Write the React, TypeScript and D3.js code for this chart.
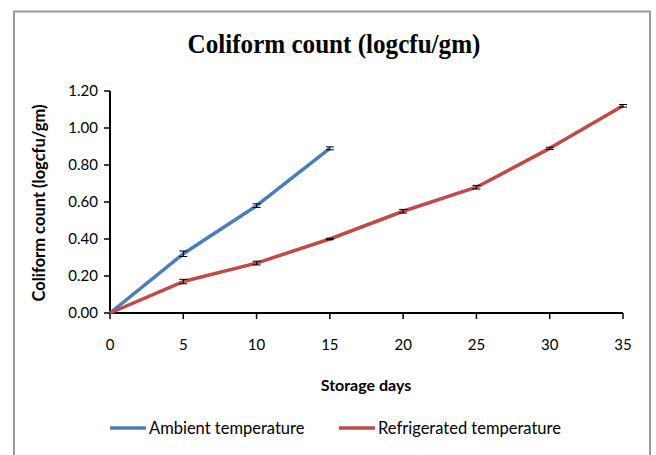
import React from "react";
import * as d3 from "d3";

const days = [0, 5, 10, 15, 20, 25, 30, 35];
const ambientDays = [0, 5, 10, 15];
const ambientValues = [0.0, 0.32, 0.58, 0.89];
const ambientErrors = [0.0, 0.015, 0.01, 0.008];
const refrigeratedValues = [0.0, 0.17, 0.27, 0.4, 0.55, 0.68, 0.89, 1.12];
const refrigeratedErrors = [0.0, 0.012, 0.01, 0.004, 0.01, 0.01, 0.006, 0.007];
const yTicks = [0, 0.2, 0.4, 0.6, 0.8, 1.0, 1.2];
const xTicks = [0, 5, 10, 15, 20, 25, 30, 35];
const seriesNames = ["Ambient temperature", "Refrigerated temperature"];
const colors = ["#4A7EBB", "#BE4B48"];

const W = 656;
const H = 455;
const left = 110;
const right = 623;
const top = 91;
const bottom = 313;
const labelFont = "Lato, 'Open Sans', sans-serif";

export default function App() {
  const x = d3.scaleLinear().domain([0, 35]).range([left, right]);
  const y = d3.scaleLinear().domain([0, 1.2]).range([bottom, top]);
  const line = d3
    .line<[number, number]>()
    .x((d) => x(d[0]))
    .y((d) => y(d[1]));

  const series = [
    { xs: ambientDays, vs: ambientValues, es: ambientErrors, color: colors[0] },
    { xs: days, vs: refrigeratedValues, es: refrigeratedErrors, color: colors[1] },
  ];

  return (
    <svg
      width={W}
      height={H}
      style={{ position: "absolute", left: 0, top: 0, background: "#fff" }}
    >
      <rect x={0} y={0} width={W} height={H} fill="#fff" />
      <rect x={14} y={11.5} width={636} height={460} fill="#fff" stroke="#9a9a9a" strokeWidth={2} />
      <text
        x={0}
        y={0}
        textAnchor="middle"
        fontFamily="'Liberation Serif', 'Times New Roman', serif"
        fontWeight="bold"
        fontSize={27}
        fill="#000"
        transform="translate(334,53) scale(0.93,1)"
      >
        Coliform count (logcfu/gm)
      </text>

      {/* y axis */}
      <line x1={left} x2={left} y1={top} y2={bottom} stroke="#000" strokeWidth={2} />
      {yTicks.map((t) => (
        <g key={"y" + t}>
          <line x1={left - 6} x2={left} y1={y(t)} y2={y(t)} stroke="#000" strokeWidth={1.5} />
          <text
            x={left - 12}
            y={y(t)}
            dy="0.36em"
            textAnchor="end"
            fontFamily={labelFont}
            fontSize={15}
            fill="#000"
          >
            {t.toFixed(2)}
          </text>
        </g>
      ))}

      {/* x axis */}
      <line x1={left} x2={right} y1={bottom} y2={bottom} stroke="#000" strokeWidth={2} />
      {xTicks.map((t) => (
        <g key={"x" + t}>
          <line x1={x(t)} x2={x(t)} y1={bottom} y2={bottom + 6} stroke="#000" strokeWidth={1.5} />
          <text
            x={x(t)}
            y={350}
            textAnchor="middle"
            fontFamily={labelFont}
            fontSize={15}
            fill="#000"
          >
            {t}
          </text>
        </g>
      ))}

      {/* series */}
      {series.map((s, i) => {
        const pts: [number, number][] = s.xs.map((d, j) => [d, s.vs[j]]);
        return (
          <g key={"s" + i}>
            <path d={line(pts) || ""} fill="none" stroke={s.color} strokeWidth={3.5} strokeLinejoin="round" />
            {pts.map((p, j) =>
              s.es[j] > 0 ? (
                <g key={j} stroke="#000" strokeWidth={1}>
                  <line x1={x(p[0])} x2={x(p[0])} y1={y(p[1] - s.es[j])} y2={y(p[1] + s.es[j])} />
                  <line x1={x(p[0]) - 4} x2={x(p[0]) + 4} y1={y(p[1] - s.es[j])} y2={y(p[1] - s.es[j])} />
                  <line x1={x(p[0]) - 4} x2={x(p[0]) + 4} y1={y(p[1] + s.es[j])} y2={y(p[1] + s.es[j])} />
                </g>
              ) : null
            )}
          </g>
        );
      })}

      {/* axis titles */}
      <text
        x={366}
        y={391}
        textAnchor="middle"
        fontFamily={labelFont}
        fontWeight="bold"
        fontSize={16}
        fill="#000"
      >
        Storage days
      </text>
      <text
        transform={`translate(45,${(top + bottom) / 2 + 1}) rotate(-90)`}
        textAnchor="middle"
        fontFamily={labelFont}
        fontWeight="bold"
        fontSize={16.5}
        fill="#000"
      >
        Coliform count  (logcfu/gm)
      </text>

      {/* legend */}
      {seriesNames.map((n, i) => {
        const lx = i === 0 ? 110 : 339;
        return (
          <g key={"l" + i}>
            <line x1={lx} x2={lx + 36} y1={428} y2={428} stroke={colors[i]} strokeWidth={3.5} />
            <text x={lx + 39} y={433.5} fontFamily={labelFont} fontSize={16.5} fill="#000">
              {n}
            </text>
          </g>
        );
      })}
    </svg>
  );
}
